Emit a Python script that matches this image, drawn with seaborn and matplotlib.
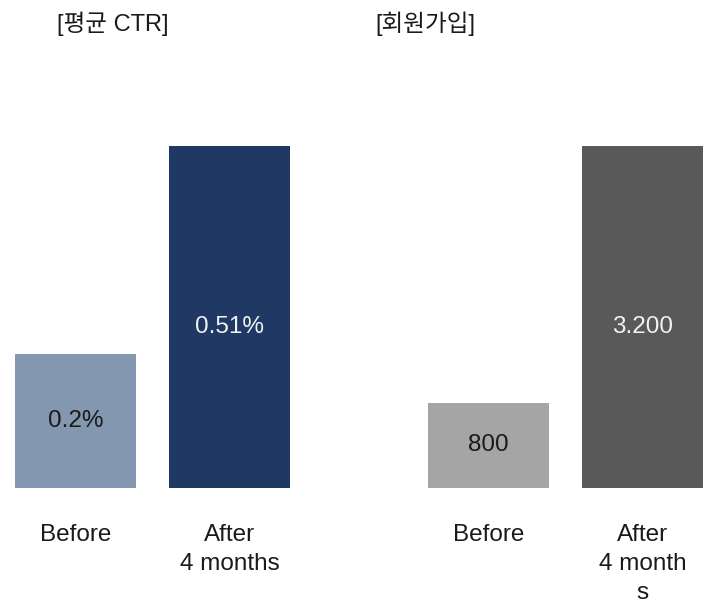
import matplotlib
matplotlib.use("Agg")
import matplotlib.pyplot as plt
import seaborn as sns
import pandas as pd

sns.set_theme(style="white")
plt.rcParams['font.family'] = ['Liberation Sans', 'Noto Sans CJK KR', 'DejaVu Sans']

# Data
ctr_categories = ["Before", "After\n4 months"]
ctr_values = [0.2, 0.51]
ctr_labels = ["0.2%", "0.51%"]
ctr_title = "[평균 CTR]"

signup_categories = ["Before", "After\n4 month\ns"]
signup_values = [800, 3200]
signup_labels = ["800", "3.200"]
signup_title = "[회원가입]"

ctr_colors = ["#8497B0", "#203864"]
signup_colors = ["#A5A5A5", "#595959"]
label_colors_ctr = ["#1a1a1a", "#f2f2f2"]
label_colors_signup = ["#1a1a1a", "#f2f2f2"]

W, H = 703, 607
fig = plt.figure(figsize=(W / 100, H / 100), dpi=100)

base_px = 488
top_px = 146
step_px = 154.0
FS = 17.5


def make_panel(x0_px, x1_px, center0_px, cats, vals, labels, colors, lcolors):
    ax = fig.add_axes([x0_px / W, (H - base_px) / H, (x1_px - x0_px) / W, (base_px - top_px) / H])
    df = pd.DataFrame({"cat": cats, "val": vals})
    sns.barplot(data=df, x="cat", y="val", hue="cat", palette=colors, order=cats,
                hue_order=cats, width=121 / step_px, legend=False, ax=ax,
                saturation=1, linewidth=0)
    ax.set_xlim((x0_px - center0_px) / step_px, (x1_px - center0_px) / step_px)
    ax.set_ylim(0, max(vals))
    for i, (v, lab) in enumerate(zip(vals, labels)):
        y = v / 2 if v < max(vals) else v * 0.47
        ax.text(i, y, lab, ha="center", va="center", fontsize=FS, color=lcolors[i])
    ax.set_xlabel("")
    ax.set_ylabel("")
    ax.set_yticks([])
    ax.tick_params(axis="x", length=0, pad=26)
    ax.set_xticks(range(len(cats)))
    ax.set_xticklabels(cats, fontsize=FS, color="#1a1a1a", linespacing=1.42, va="top")
    for s in ax.spines.values():
        s.set_visible(False)
    ax.patch.set_alpha(0)
    return ax


make_panel(0, 351, 75.5, ctr_categories, ctr_values, ctr_labels, ctr_colors, label_colors_ctr)
make_panel(352, 703, 488.5, signup_categories, signup_values, signup_labels, signup_colors, label_colors_signup)

fig.text(113 / W, 1 - 24 / H, ctr_title, ha="center", va="center", fontsize=FS - 0.5, color="#1a1a1a")
fig.text(425 / W, 1 - 24 / H, signup_title, ha="center", va="center", fontsize=FS - 0.5, color="#1a1a1a")

fig.savefig("out.png", dpi=100)
